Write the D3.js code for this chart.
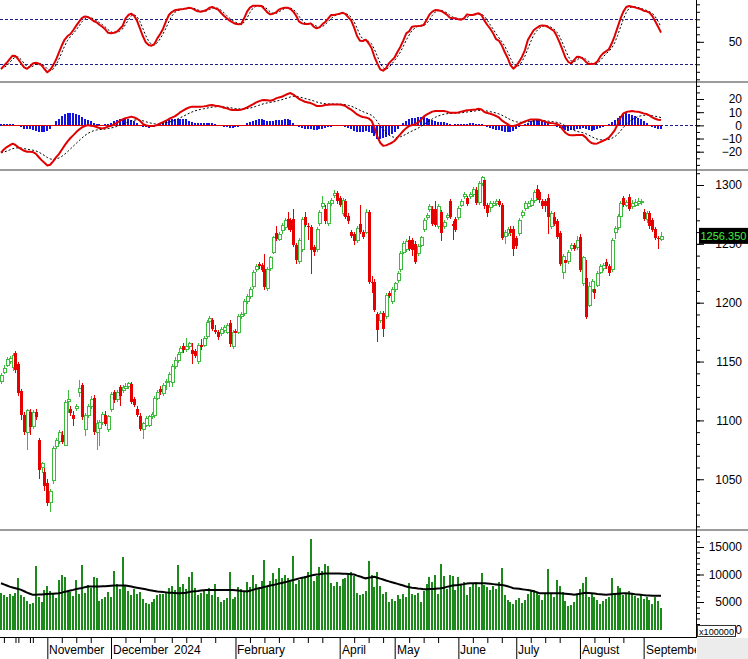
<!DOCTYPE html>
<html><head><meta charset="utf-8">
<script src="https://cdn.jsdelivr.net/npm/d3@7/dist/d3.min.js"></script>
<style>html,body{margin:0;padding:0;background:#fff;overflow:hidden}svg{display:block}</style>
</head><body><svg id="chart" width="748" height="659"></svg>
<script>
// ---------------- DATA ----------------
const openP = [
1133,1141,1147,1150,1145,1157,1148,1125,1105,1090,
1107,1095,1107,1083,1060,1056,1047,1030,1049,1078,
1082,1088,1079,1116,1110,1105,1110,1124,1130,1092,
1104,1112,1119,1090,1093,1098,1105,1092,1109,1124,
1118,1128,1125,1127,1129,1131,1118,1110,1104,1092,
1096,1096,1103,1104,1119,1127,1123,1132,1133,1132,
1146,1151,1158,1163,1160,1163,1160,1159,1150,1164,
1164,1171,1184,1185,1177,1175,1174,1176,1175,1183,
1163,1176,1175,1188,1191,1201,1205,1214,1228,1233,
1232,1229,1212,1229,1243,1259,1254,1261,1264,1271,
1270,1271,1249,1235,1245,1273,1265,1264,1247,1245,
1267,1282,1280,1267,1284,1291,1293,1289,1276,1286,
1274,1260,1258,1253,1267,1260,1260,1277,1218,1218,
1190,1185,1191,1188,1208,1201,1211,1219,1228,1243,
1245,1253,1253,1250,1242,1249,1262,1272,1279,1280,
1280,1265,1277,1265,1272,1286,1267,1271,1272,1283,
1290,1289,1290,1292,1296,1285,1301,1304,1283,1281,
1283,1284,1286,1283,1256,1259,1263,1263,1255,1259,
1274,1280,1282,1283,1287,1297,1294,1286,1286,1289,
1265,1273,1269,1259,1226,1236,1235,1246,1249,1247,
1256,1216,1221,1198,1211,1212,1215,1226,1229,1235,
1231,1228,1260,1264,1273,1289,1283,1290,1282,1283,
1284,1285,1277,1271,1276,1270,1263,1255,1254];
const highP = [
1140,1147,1154,1155,1157,1159,1150,1127,1107,1110,
1110,1109,1110,1085,1065,1060,1050,1042,1078,1085,
1092,1091,1117,1126,1112,1108,1114,1134,1132,1106,
1114,1121,1122,1100,1100,1107,1108,1105,1124,1126,
1126,1130,1130,1132,1133,1133,1120,1112,1106,1099,
1104,1105,1107,1121,1126,1129,1132,1135,1141,1148,
1154,1158,1163,1166,1170,1167,1166,1161,1166,1169,
1172,1185,1189,1187,1181,1177,1179,1181,1183,1185,
1177,1178,1190,1192,1203,1207,1213,1228,1233,1235,
1234,1241,1230,1240,1257,1265,1260,1268,1272,1277,
1272,1280,1251,1255,1273,1277,1268,1266,1249,1264,
1279,1291,1283,1286,1289,1296,1295,1291,1289,1288,
1276,1262,1260,1265,1283,1262,1280,1279,1223,1220,
1192,1193,1193,1208,1210,1213,1218,1227,1244,1252,
1254,1257,1255,1252,1250,1257,1272,1276,1284,1282,
1286,1284,1279,1270,1276,1288,1269,1273,1282,1288,
1294,1291,1294,1298,1298,1303,1308,1306,1285,1286,
1286,1288,1288,1285,1262,1264,1265,1265,1257,1272,
1279,1286,1286,1289,1296,1300,1296,1288,1288,1292,
1278,1277,1271,1261,1241,1238,1245,1251,1251,1257,
1258,1240,1236,1218,1220,1214,1227,1233,1234,1237,
1233,1255,1265,1275,1286,1291,1287,1292,1287,1288,
1289,1288,1280,1278,1278,1272,1264,1257,1260];
const lowP = [
1131,1139,1145,1148,1142,1140,1121,1100,1088,1075,
1088,1093,1100,1050,1055,1040,1027,1022,1046,1076,
1080,1080,1078,1106,1104,1095,1108,1120,1100,1087,
1102,1110,1088,1075,1078,1096,1095,1090,1107,1115,
1116,1112,1123,1125,1127,1114,1111,1103,1091,1084,
1094,1094,1101,1102,1117,1122,1121,1126,1128,1128,
1144,1149,1156,1157,1158,1161,1148,1153,1148,1160,
1162,1169,1182,1176,1173,1168,1172,1174,1173,1162,
1161,1172,1173,1186,1189,1199,1203,1212,1226,1229,
1226,1211,1210,1227,1241,1252,1252,1258,1262,1262,
1260,1247,1233,1233,1243,1264,1253,1224,1240,1243,
1265,1280,1267,1265,1282,1289,1284,1281,1274,1271,
1267,1255,1249,1251,1258,1254,1258,1216,1208,1192,
1167,1183,1171,1186,1204,1199,1209,1217,1226,1241,
1243,1244,1240,1233,1240,1247,1260,1270,1277,1265,
1264,1263,1252,1263,1270,1271,1253,1260,1270,1281,
1288,1282,1288,1290,1283,1283,1299,1280,1273,1277,
1281,1282,1281,1253,1250,1257,1257,1240,1246,1257,
1272,1278,1280,1281,1285,1287,1285,1280,1277,1258,
1263,1265,1254,1231,1220,1228,1233,1244,1244,1245,
1226,1214,1186,1196,1209,1203,1213,1224,1227,1229,
1223,1226,1254,1262,1271,1281,1281,1278,1280,1281,
1282,1283,1269,1268,1263,1260,1253,1246,1252];
const closeP = [
1138,1144,1152,1153,1155,1143,1123,1105,1090,1108,
1094,1107,1103,1058,1063,1044,1030,1040,1076,1083,
1090,1082,1115,1118,1106,1101,1112,1127,1103,1104,
1112,1118,1090,1097,1098,1105,1097,1103,1122,1117,
1124,1121,1128,1129,1131,1116,1113,1105,1093,1097,
1102,1103,1105,1119,1124,1124,1130,1133,1139,1146,
1151,1156,1161,1160,1163,1165,1156,1155,1164,1162,
1170,1183,1187,1178,1175,1171,1177,1179,1181,1165,
1175,1174,1188,1190,1201,1205,1211,1226,1231,1231,
1228,1213,1228,1238,1255,1254,1258,1266,1270,1264,
1262,1249,1236,1253,1271,1266,1264,1245,1243,1262,
1277,1284,1269,1284,1287,1293,1286,1283,1287,1273,
1269,1257,1252,1263,1260,1256,1277,1218,1217,1194,
1177,1191,1178,1206,1206,1211,1216,1225,1242,1250,
1252,1246,1245,1235,1248,1255,1270,1274,1282,1267,
1266,1282,1259,1268,1274,1273,1265,1262,1280,1286,
1292,1284,1292,1296,1285,1301,1306,1282,1276,1284,
1284,1286,1283,1255,1260,1262,1259,1246,1248,1270,
1277,1284,1284,1287,1294,1289,1287,1282,1282,1273,
1276,1267,1256,1233,1239,1234,1243,1249,1246,1253,
1228,1238,1188,1214,1218,1208,1225,1231,1232,1231,
1225,1253,1263,1273,1284,1283,1285,1280,1284,1285,
1286,1286,1271,1276,1265,1262,1255,1254,1256.35];
const volume = [
6600,6200,6000,6400,6100,6600,9400,6300,6000,5200,
4600,4900,11600,6000,5000,7200,7900,7000,6500,5800,
9000,9900,9600,7200,6800,6100,9000,6500,11800,6700,
8100,7600,9600,9300,5200,5500,6000,6800,5900,10600,
8200,7400,13200,8100,7000,6200,7300,6500,6800,5500,
4800,4600,5000,5600,6200,6400,6500,6800,7500,8000,
7200,11700,7800,8200,7400,9600,10500,7600,6200,6600,
7000,6400,7600,6300,8200,6000,5000,5400,5800,10500,
5600,6000,7800,7300,6800,8700,7800,9900,8300,7600,
8800,12600,8000,8900,10200,9200,11100,9300,10000,9400,
8700,13400,8300,9000,9600,9800,10400,16500,8800,9700,
11400,10700,12000,11500,8400,7900,8600,8000,9200,9400,
10000,10500,9800,6700,6300,6500,7000,12500,9900,7700,
10500,8000,6400,6800,5000,5500,5200,6200,5600,6400,
6000,8500,6500,6300,6600,5000,7000,8300,9600,8600,
10000,6500,12000,9700,7300,9900,9700,7100,9600,8200,
8700,6200,7800,8300,8600,7700,10200,8100,7700,7200,
8000,7400,8600,11200,6300,5400,5000,4600,5300,5800,
4800,5300,6400,7100,7200,6800,6200,5400,6400,11000,
6600,6000,9000,7900,6900,5200,4300,4400,5000,6300,
7400,8500,9600,6000,6700,5900,5400,4700,5200,5600,
6000,9400,6400,8000,7600,6200,6600,7000,6700,6100,
5800,6300,5500,5900,5300,4600,5900,5200,4000];
const volumeMA = [
8400,8200,8000,7800,7650,7500,7350,7200,6950,6700,
6500,6300,6300,6350,6350,6400,6450,6500,6500,6550,
6600,6700,6850,6950,7100,7200,7350,7450,7550,7700,
7800,7800,7800,7800,7800,7850,7850,7900,7950,8000,
8000,8000,8000,8000,7900,7800,7700,7600,7500,7400,
7300,7200,7100,7000,6900,6850,6800,6750,6700,6700,
6650,6600,6600,6650,6700,6800,6900,6950,7000,7100,
7150,7200,7200,7200,7200,7200,7200,7200,7200,7200,
7200,7150,7100,7000,6950,6900,7050,7200,7350,7500,
7600,7750,7850,8000,8100,8200,8350,8450,8600,8700,
8850,9000,9150,9300,9400,9500,9650,9800,9900,10000,
10050,10150,10200,10200,10200,10200,10200,10200,10150,10150,
10100,10050,10000,9800,9650,9450,9300,9400,9500,9600,
9400,9250,9100,8900,8750,8600,8450,8300,8150,8000,
7800,7700,7600,7550,7450,7400,7300,7300,7350,7350,
7400,7450,7500,7600,7750,7850,8000,8050,8100,8200,
8250,8350,8400,8400,8400,8400,8400,8400,8350,8300,
8250,8200,8150,8100,8000,7850,7700,7500,7450,7400,
7300,7250,7200,7100,6950,6800,6600,6600,6600,6600,
6600,6600,6600,6600,6550,6500,6450,6400,6300,6400,
6500,6600,6700,6650,6600,6550,6450,6400,6350,6300,
6350,6400,6450,6500,6550,6600,6600,6550,6500,6400,
6350,6300,6250,6200,6200,6150,6150,6150,6150];
const stochK = [
13.7,18,22,27,31.5,31,26.6,21,16,14,
17,21,22,21,19,13.7,9.3,12.4,18.6,26,
35.5,45,53,57.7,60.4,65.7,71.5,76.8,82,83.7,
83,80.8,77.7,76,72.8,70,66.6,62,61.3,62,
63.5,67,71,80.8,85.7,87.5,84.8,78,68,57.7,
49.3,45.7,44.8,47,54.6,60.4,67.5,77.3,85.7,89.7,
92,92.8,93.3,93.7,94.6,95.5,94.6,92.4,90.6,90.2,
91,92.4,95.5,96.4,94.6,93,88.8,84.8,81.3,78.2,
76,74,73.3,73.7,81.3,90.2,95.5,98,98,98,
97.7,93.7,89.3,86.6,87.5,89.3,92.8,94.6,95.5,95.5,
93.7,90.2,84.4,76.8,74.6,73.7,73.7,74.6,70.2,68,
69.3,73.3,76.4,80.8,85.7,85.7,86.6,87.5,88.8,87,
82.6,78.2,68.8,57.7,51.5,51,52.8,48,41.7,30,
21.3,13.3,11.5,14.6,21.3,25.3,29.3,36.8,43.5,52,
61.3,64,70.2,70.6,71,71.5,72.4,79,86.2,90.2,
92.4,92,91.1,88.8,86.2,82.2,81.3,81.3,80,79.5,
81.7,86.6,85.7,85.7,87,88,85.7,78.2,72.4,67.5,
61.3,53.7,51.5,45.3,36.4,28.8,19,14.2,17.7,23.5,
30.2,39,52.4,59,65.3,68.4,71,71.9,71.5,69.7,
67,64.4,57.7,48.8,39,28.8,23,21.3,25.8,30.2,
29.7,27.5,23.5,20.4,20.4,20.8,23.5,30.2,34.6,37.3,
40,48,57.7,69.3,80.8,90.2,96.4,97.7,96.8,95.9,
94.6,93.7,91.5,90.6,88.8,84.4,77.3,70.2,62.2];
const macdLine = [
-20.8,-18.3,-16.5,-15.2,-13.9,-14.9,-16.7,-18,-19.3,-20,
-20,-20.3,-21.5,-24,-26.4,-28.4,-30.4,-29.9,-27.4,-24.3,
-21.8,-18.5,-15.2,-12.2,-9.6,-7.4,-5.1,-3.1,-1.5,-0.5,
0.2,-0.3,-0.5,-1.3,-2.1,-2.3,-1.8,-1,-0.3,0.5,
2,3.3,4.5,5.5,6,6.6,6,5,3.5,1.2,
0,-0.5,-0.5,-0.3,0.2,1.5,2.5,3.5,4.8,5.8,
6.8,8.3,10.1,11.4,12.6,13.6,14.2,14.2,14.2,14.2,
14.4,14.7,15.2,15.4,14.9,14.7,14.2,13.4,12.9,12.1,
11.6,11.6,11.6,11.9,12.6,13.6,14.7,15.9,17.2,18.2,
19,19.2,19,18.7,19.2,20.5,21.2,21.7,22.8,23.8,
24.5,23.3,21.7,20,19,17.9,17.4,16.9,15.9,14.7,
14.7,14.9,15.4,15.7,15.9,15.9,15.9,15.9,15.4,14.7,
13.1,11.9,10.1,8.3,7.1,6.3,6,5.3,3.5,-1.5,
-8.6,-13.2,-15.5,-15.2,-14.2,-13.2,-11.7,-9.1,-6.6,-4.1,
-2.1,-0.5,0.2,0.7,2,4,6.6,8.1,9.3,10.4,
10.9,10.9,10.9,10.9,10.4,9.6,9.6,9.6,9.8,10.4,
10.9,11.4,11.6,11.9,12.1,12.6,12.1,10.1,9.3,8.8,
8.1,7.1,6,3.8,2.3,1,-0.5,-0.5,0,1,
2,3,3.8,4.5,4.5,4.5,4.3,3.5,2.8,2,
1.7,1.5,1,0,-3.1,-5.6,-7.1,-7.6,-7.6,-7.4,
-7.4,-7.4,-9.1,-11.7,-13.4,-13.9,-13.7,-12.7,-11.7,-10.7,
-9.4,-6.6,-3.8,0.7,5.8,9.1,10.1,10.6,10.9,10.6,
10.4,9.8,9.1,8.6,7.6,6,5,4.3,4];
const macdHist = [
1,1,1.2,1,0.8,0.5,-0.5,-1.5,-2.5,-3,
-3,-3.5,-4,-4.8,-5,-5,-4.5,-2.5,0.5,3,
5,7,8.5,9,9.2,9,8.5,7.5,6.5,5,
4,3,1.5,1,0.8,0.6,0.8,1.2,2,3,
4,4.5,5,5,4.6,4,3,2,0.5,-1,
-1.5,-1.8,-1.5,-1,0.5,1.5,2.5,3.5,4.2,4.8,
5,5,5,4.8,4.5,3.5,2.8,2,1.6,1.5,
1.5,1.6,1.8,1.5,1,0.3,-0.5,-1,-1.5,-1.8,
-1.8,-1.5,-1.2,-0.5,0.5,1.5,2.5,3.5,4.2,4.5,
4.5,4,3.5,3,3.2,3.8,4,4.2,4.5,4.5,
4,2,0.5,-1,-2,-2.8,-3,-3,-3.2,-3.5,
-3,-2.5,-2,-1.5,-1,-0.5,-0.2,0,-0.3,-1,
-2,-3,-4,-4.8,-5,-5,-4.6,-4.8,-6,-8,
-10.6,-10.5,-9.5,-8.5,-7.5,-6.5,-5,-3,0.5,2,
3.5,4.5,5.2,5.8,6.3,6.5,6.3,5.5,4.5,3.8,
3.2,2.8,2.5,2.2,1.6,1,0.6,0.8,1,1.2,
1.2,1.4,1.5,1.5,1.4,1.2,0.8,0,-1,-1.8,
-2.5,-3.2,-3.5,-4.2,-5,-5,-4.8,-4,-3,-1.5,
-0.5,1,2,3,4,4.6,4.8,4,3,2,
0.5,-0.5,-1,-2,-3,-3.8,-4,-3.8,-3.5,-3,
-2.5,-2.2,-3,-3.8,-4,-3.8,-3,-2,-1,0.2,
1,2.5,4,5.8,7.2,8.5,9,8.8,8,7,
5.8,4.5,3,1.5,-0.5,-1.5,-2,-2.5,-2.5];
// month ticks (bar index where the month starts)
const monthTicks = [
  {i:16, label:"November", major:true},
  {i:38, label:"December", major:true},
  {i:59, label:"2024", major:false},
  {i:81, label:"February", major:true},
  {i:96, label:"", major:false},
  {i:117, label:"April", major:true},
  {i:136, label:"May", major:true},
  {i:158, label:"June", major:true},
  {i:178, label:"July", major:true},
  {i:200, label:"August", major:true},
  {i:222, label:"September", major:true}
];
const stochLevels = [20, 80];
const stochLabels = [50];
const macdLabels = [-20, -10, 0, 10, 20];
const priceLabels = [1050, 1100, 1150, 1200, 1250, 1300];
const volumeLabels = [0, 5000, 10000, 15000];
const lastPriceText = "1256.350";

// ---------------- CHART ----------------
const FONT = '"Liberation Sans", Arial, Helvetica, sans-serif';
const svg = d3.select("#chart").attr("font-family", FONT);
const AX = 696;
const n = closeP.length;
const x = d3.scaleLinear().domain([0, n - 1]).range([1, 661]);
const yS = d3.scaleLinear().domain([0, 100]).range([79.3, 4.3]);
const yM = d3.scaleLinear().domain([-20, 20]).range([151.7, 99]);
const yP = d3.scaleLinear().domain([1200, 1300]).range([302.7, 185]);
const yV = d3.scaleLinear().domain([0, 15000]).range([629.5, 547]);

svg.append("rect").attr("width", 748).attr("height", 659).attr("fill", "#fff");
const defs = svg.append("defs");
function addClip(id, x0, y0, x1, y1) {
  defs.append("clipPath").attr("id", id).append("rect")
    .attr("x", x0).attr("y", y0).attr("width", x1 - x0).attr("height", y1 - y0);
}
addClip("clipS", 0, 0, AX, 81);
addClip("clipM", 0, 83, AX, 169);
addClip("clipP", 0, 171, AX, 529);
addClip("clipV", 0, 531, AX, 637);
addClip("clipX", 0, 638, AX, 659);
const px = v => Math.round(v) + 0.5;

// ---- Stochastic panel ----
const gS = svg.append("g").attr("clip-path", "url(#clipS)");
gS.selectAll("line.lvl").data(stochLevels).join("line")
  .attr("x1", 0).attr("x2", AX).attr("y1", d => px(yS(d))).attr("y2", d => px(yS(d)))
  .attr("stroke", "#1c1c8c").attr("stroke-dasharray", "3,2");
const stochD = stochK.map((v, i) => d3.mean(stochK.slice(Math.max(0, i - 2), i + 1)));
const lineS = d3.line().x((d, i) => x(i)).y(d => yS(d));
gS.append("path").datum(stochD).attr("d", lineS).attr("fill", "none")
  .attr("stroke", "#000").attr("stroke-width", 1).attr("stroke-dasharray", "2,2");
gS.append("path").datum(stochK).attr("d", lineS).attr("fill", "none")
  .attr("stroke", "#e00000").attr("stroke-width", 2).attr("stroke-linejoin", "round");

// ---- MACD panel ----
const gM = svg.append("g").attr("clip-path", "url(#clipM)");
gM.append("line").attr("x1", 0).attr("x2", AX).attr("y1", px(yM(0))).attr("y2", px(yM(0)))
  .attr("stroke", "#1c1c8c").attr("stroke-dasharray", "3,2");
gM.selectAll("rect.h").data(macdHist).join("rect")
  .attr("x", (d, i) => Math.round(x(i)) - 1).attr("width", 2)
  .attr("y", d => Math.min(yM(d), yM(0))).attr("height", d => Math.abs(yM(d) - yM(0)))
  .attr("fill", "#1414e0").attr("shape-rendering", "crispEdges");
gM.append("line").attr("x1", x(0)).attr("x2", x(n - 1)).attr("y1", px(yM(0))).attr("y2", px(yM(0)))
  .attr("stroke", "#e00000");
const signal = [];
macdLine.forEach((v, i) => signal.push(i === 0 ? v : signal[i - 1] + 0.2 * (v - signal[i - 1])));
const lineM = d3.line().x((d, i) => x(i)).y(d => yM(d));
gM.append("path").datum(signal).attr("d", lineM).attr("fill", "none")
  .attr("stroke", "#000").attr("stroke-dasharray", "2,2");
gM.append("path").datum(macdLine).attr("d", lineM).attr("fill", "none")
  .attr("stroke", "#e00000").attr("stroke-width", 2).attr("stroke-linejoin", "round");

// ---- Price panel ----
const gP = svg.append("g").attr("clip-path", "url(#clipP)");
const UP = "#3dbb3d", DN = "#e60000";
const candles = closeP.map((c, i) => ({i, o: openP[i], h: highP[i], l: lowP[i], c}));
gP.selectAll("line.w").data(candles).join("line")
  .attr("x1", d => px(x(d.i))).attr("x2", d => px(x(d.i)))
  .attr("y1", d => yP(d.h)).attr("y2", d => yP(d.l))
  .attr("stroke", d => d.c >= d.o ? UP : DN).attr("shape-rendering", "crispEdges");
gP.selectAll("rect.b").data(candles).join("rect")
  .attr("x", d => Math.round(x(d.i)) - 1)
  .attr("width", 3)
  .attr("y", d => yP(Math.max(d.o, d.c)))
  .attr("height", d => Math.max(1, Math.abs(yP(d.o) - yP(d.c))))
  .attr("fill", d => d.c >= d.o ? "#fff" : DN)
  .attr("stroke", d => d.c >= d.o ? UP : DN)
  .attr("stroke-width", d => d.c >= d.o ? 1 : 0)
  .attr("shape-rendering", "crispEdges");

// ---- Volume panel ----
const gV = svg.append("g").attr("clip-path", "url(#clipV)");
gV.selectAll("rect.v").data(volume).join("rect")
  .attr("x", (d, i) => Math.round(x(i)) - 1).attr("width", 2)
  .attr("y", d => yV(d)).attr("height", d => yV(0) - yV(d))
  .attr("fill", "#1b8a1b").attr("shape-rendering", "crispEdges");
gV.append("path").datum(volumeMA)
  .attr("d", d3.line().x((d, i) => x(i)).y(d => yV(d)))
  .attr("fill", "none").attr("stroke", "#000").attr("stroke-width", 2);

// ---- separators ----
[81, 169, 529].forEach(y => {
  svg.append("rect").attr("x", 0).attr("y", y).attr("width", 748).attr("height", 2).attr("fill", "#9c9c9c");
});

// ---- right axes ----
svg.append("line").attr("x1", AX + 0.5).attr("x2", AX + 0.5).attr("y1", 0).attr("y2", 638)
  .attr("stroke", "#000");
function rightAxis(scale, minorVals, majorVals, fmt, fontSize) {
  const g1 = svg.append("g").attr("transform", `translate(${AX},0)`)
    .call(d3.axisRight(scale).tickValues(minorVals).tickSize(4).tickFormat(""));
  g1.select(".domain").remove();
  const g2 = svg.append("g").attr("transform", `translate(${AX},0)`)
    .call(d3.axisRight(scale).tickValues(majorVals).tickSize(8).tickFormat(fmt));
  g2.select(".domain").remove();
  g2.attr("font-family", FONT).attr("font-size", fontSize);
  g2.selectAll("text").attr("x", 46).attr("text-anchor", "end").attr("fill", "#000");
  return g2;
}
rightAxis(yS, d3.range(0, 101, 10), stochLabels, d3.format("d"), 12);
rightAxis(yM, d3.range(-30, 31, 5), macdLabels, d3.format("d"), 12);
rightAxis(yP, d3.range(1010, 1311, 10), priceLabels, d3.format("d"), 12);
rightAxis(yV, d3.range(0, 17001, 1000), volumeLabels, d3.format("d"), 12);

// price label box
svg.append("rect").attr("x", 699).attr("y", yP(+lastPriceText) - 8.5).attr("width", 49).attr("height", 16)
  .attr("fill", "#000");
svg.append("text").attr("x", 700.5).attr("y", yP(+lastPriceText) + 4)
  .text(lastPriceText).attr("font-size", 11).attr("fill", "#3cf03c");

// x100000 box
svg.append("rect").attr("x", 697.5).attr("y", 625.5).attr("width", 38).attr("height", 11)
  .attr("fill", "#fff").attr("stroke", "#333");
svg.append("text").attr("x", 699).attr("y", 634.5).text("x100000").attr("font-size", 9)
  .attr("textLength", 35).attr("lengthAdjust", "spacingAndGlyphs").attr("fill", "#000");

// ---- bottom axis ----
svg.append("rect").attr("x", 697).attr("y", 638).attr("width", 51).attr("height", 21).attr("fill", "#ececec");
svg.append("line").attr("x1", 0).attr("x2", AX + 1).attr("y1", 637.5).attr("y2", 637.5).attr("stroke", "#000");
const monthIdx = monthTicks.map(d => d.i);
const weekIdx = [];
const bounds = [0].concat(monthIdx).concat([n]);
for (let k = 0; k < bounds.length - 1; k++) {
  for (let j = bounds[k] + 5; j < bounds[k + 1] - 2; j += 5) weekIdx.push(j);
}
[1, 6, 11].forEach(j => weekIdx.push(j));
const gx1 = svg.append("g").attr("transform", "translate(0,638)")
  .call(d3.axisBottom(x).tickValues(weekIdx.concat(monthTicks.filter(d => !d.major).map(d => d.i))).tickSize(5).tickFormat(""));
gx1.select(".domain").remove();
const gx2 = svg.append("g").attr("transform", "translate(0,638)")
  .call(d3.axisBottom(x).tickValues(monthTicks.filter(d => d.major).map(d => d.i)).tickSize(21).tickFormat(""));
gx2.select(".domain").remove();
const gxl = svg.append("g").attr("clip-path", "url(#clipX)");
gxl.selectAll("text").data(monthTicks.filter(d => d.label)).join("text")
  .attr("x", d => Math.round(x(d.i)) + 2).attr("y", 654)
  .attr("font-size", 12).attr("fill", "#000").text(d => d.label);
</script></body></html>
